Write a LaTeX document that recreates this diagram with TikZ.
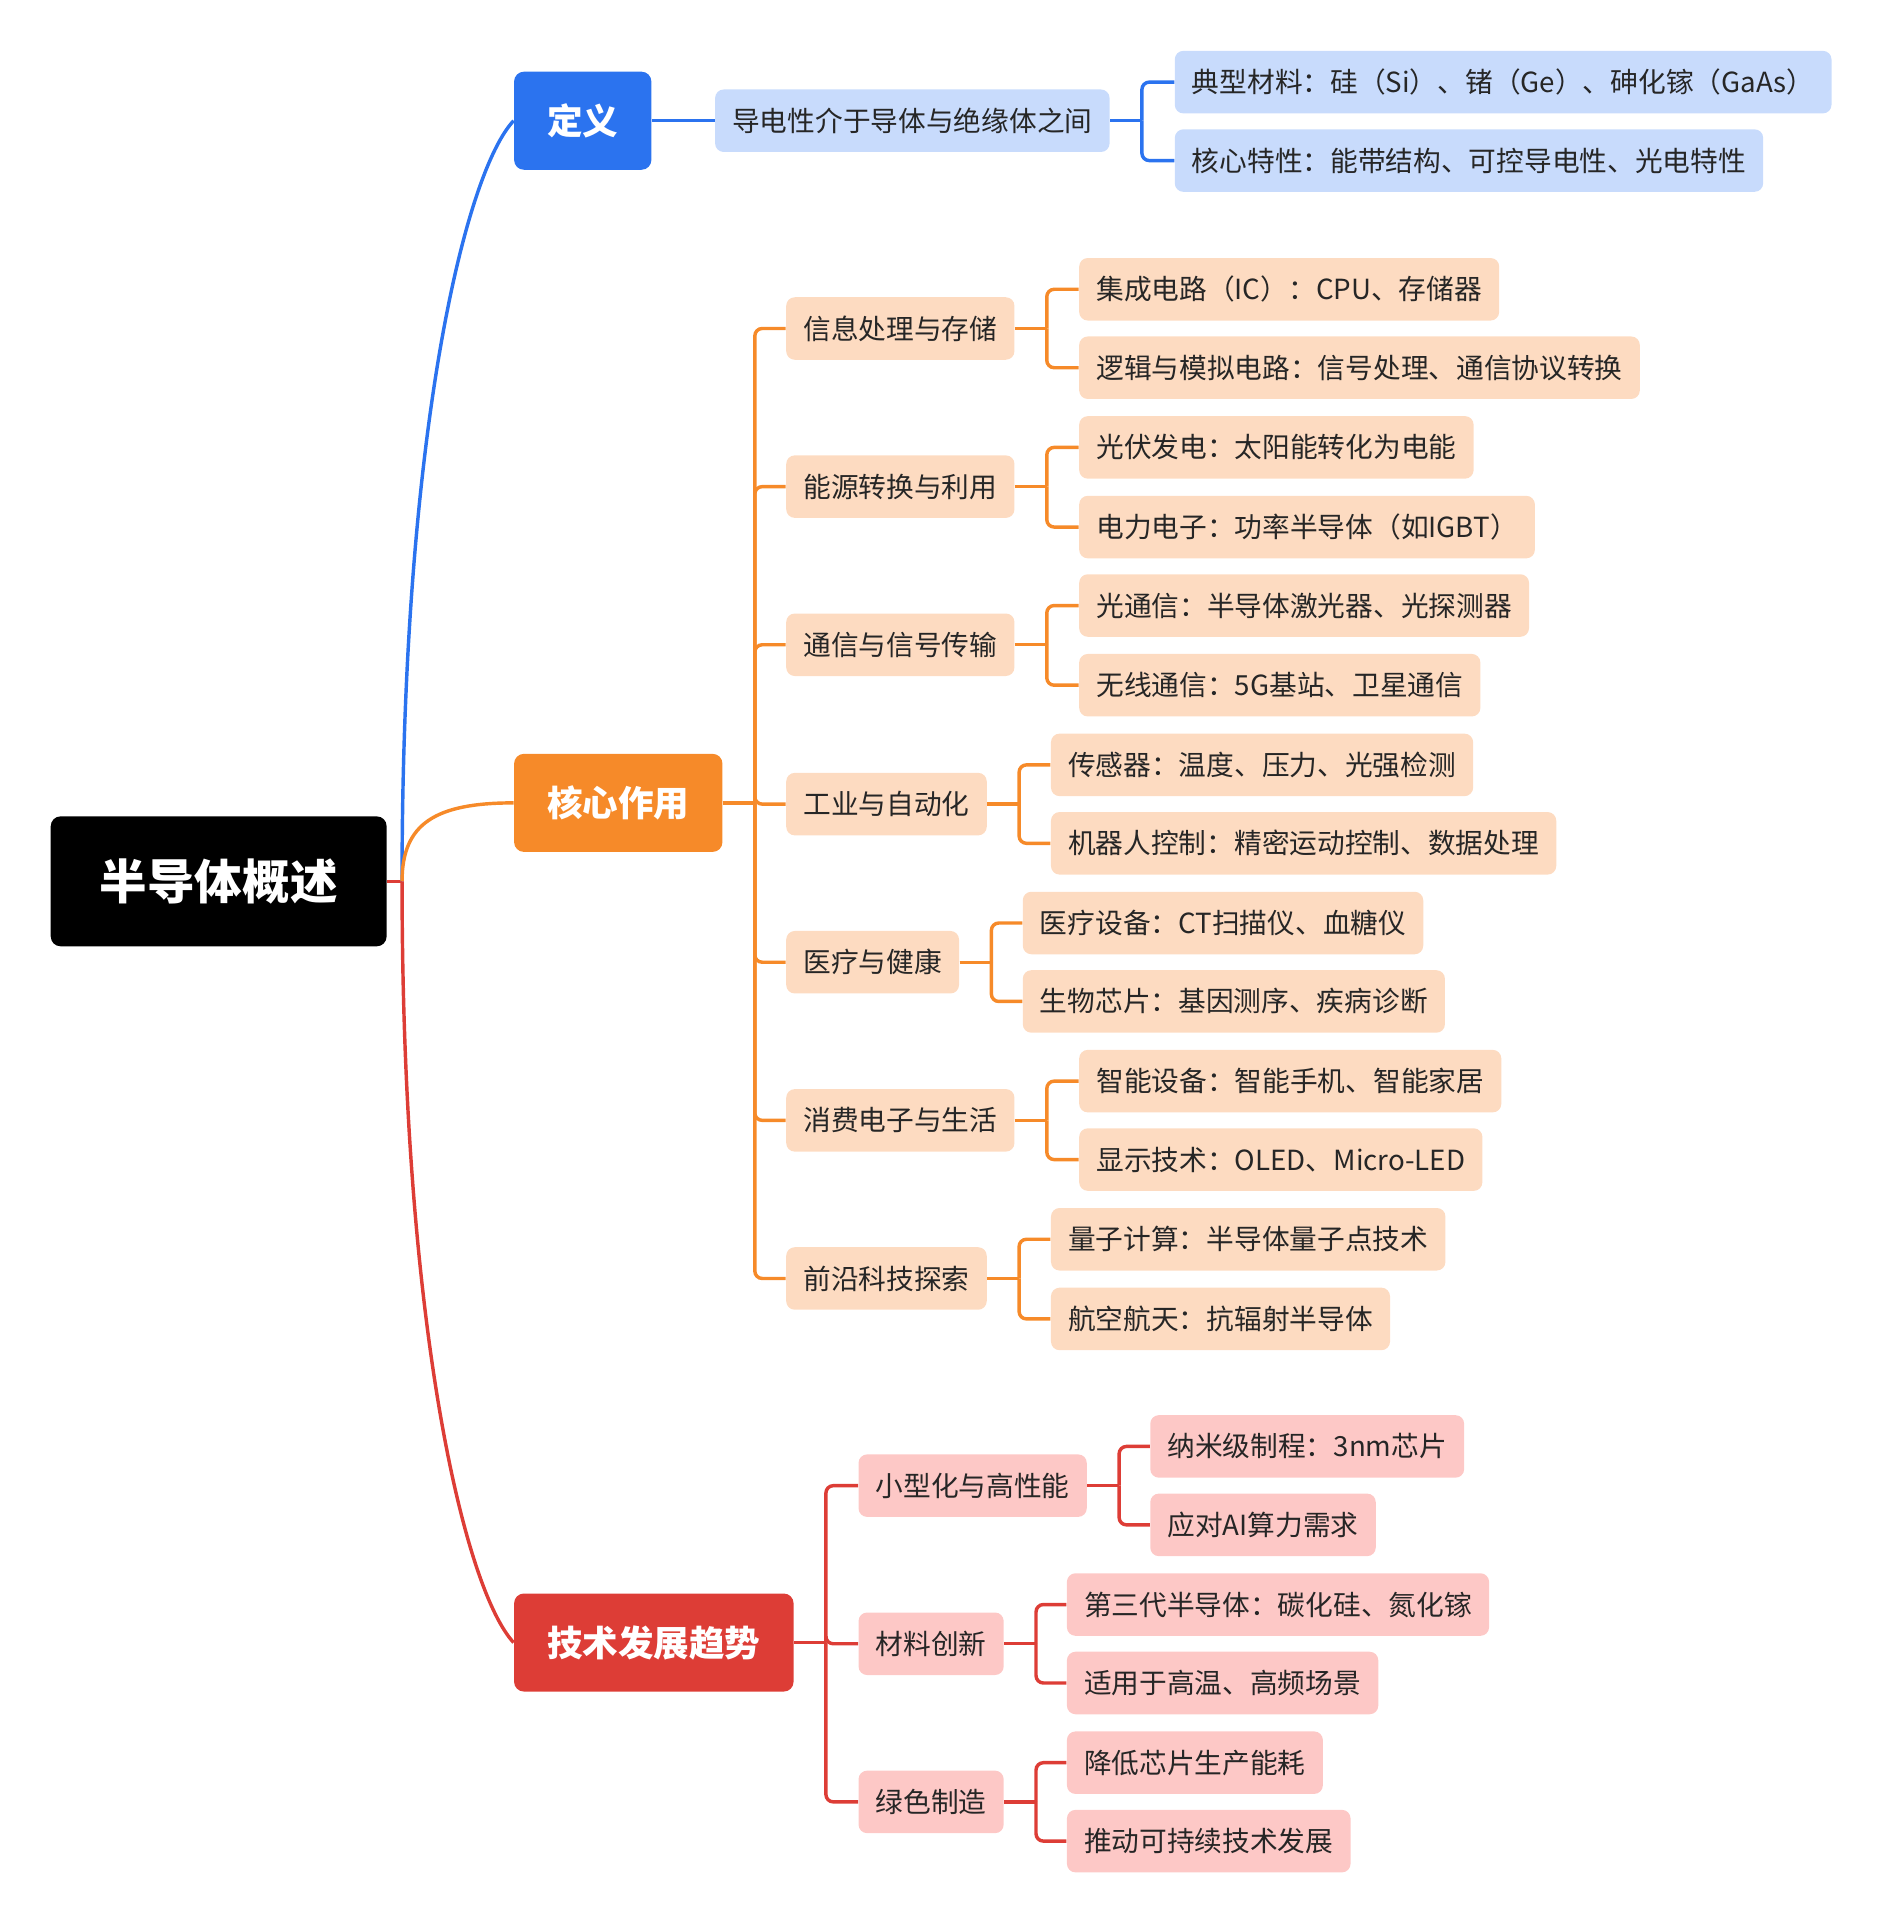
\documentclass[tikz,border=0pt]{standalone}
\usepackage{fontspec}
\setmainfont{Noto Sans CJK SC}
\usepackage{tikz}

\definecolor{bluedark}{HTML}{2B73EF}
\definecolor{bluelight}{HTML}{C8DBFC}
\definecolor{orangedark}{HTML}{F68A29}
\definecolor{orangelight}{HTML}{FDDBC1}
\definecolor{reddark}{HTML}{DD3D36}
\definecolor{redlight}{HTML}{FDC8C6}
\definecolor{txt}{HTML}{262626}

\tikzset{
  rootbox/.style={fill=black, text=white, rounded corners=4pt, anchor=west,
    font=\fontsize{19.4}{22}\selectfont\bfseries, inner xsep=20pt, inner ysep=0pt, minimum height=53pt},
  topic/.style={text=white, rounded corners=4pt, anchor=west,
    font=\fontsize{14.5}{17}\selectfont\bfseries, inner xsep=13.5pt, inner ysep=0pt, minimum height=40pt},
  leaf/.style={text=txt, rounded corners=3.5pt, anchor=west,
    font=\fontsize{11.3}{13}\selectfont, inner xsep=7pt, inner ysep=0pt, minimum height=25.5pt},
  link/.style={line width=1.4pt},
}

\begin{document}
\begin{tikzpicture}[x=0.5pt,y=-0.5pt]
    \useasboundingbox (0,0) rectangle (1542,1568);

    % main topic and branches
    \node[rootbox] (root) at (41,719) {半导体概述};
    \coordinate (hub) at (328,719);
    \node[topic, fill=bluedark] (def) at (419,98.5) {定义};
    \node[topic, fill=orangedark] (core) at (419,655) {核心作用};
    \node[topic, fill=reddark] (trend) at (419,1340) {技术发展趋势};

    \draw[link, reddark] (root.east) -- (hub);
    \draw[link, bluedark] (hub) .. controls (328,350) and (380,140) .. (def.west);
    \draw[link, orangedark] (hub) .. controls (328,672) and (355,655) .. (core.west);
    \draw[link, reddark] (hub) .. controls (328,1088) and (380,1298) .. (trend.west);

    % definition
    \node[leaf, fill=bluelight] (cond) at (583,98.5) {导电性介于导体与绝缘体之间};
    \node[leaf, fill=bluelight] (typ) at (958,67) {典型材料：硅（Si）、锗（Ge）、砷化镓（GaAs）};
    \node[leaf, fill=bluelight] (feat) at (958,131) {核心特性：能带结构、可控导电性、光电特性};
    \draw[link, bluedark] (def.east) -- (cond.west);

    % core roles
    \node[leaf, fill=orangelight] (info) at (641,268) {信息处理与存储};
    \node[leaf, fill=orangelight] (energy) at (641,397) {能源转换与利用};
    \node[leaf, fill=orangelight] (comm) at (641,526) {通信与信号传输};
    \node[leaf, fill=orangelight] (indus) at (641,656) {工业与自动化};
    \node[leaf, fill=orangelight] (med) at (641,785) {医疗与健康};
    \node[leaf, fill=orangelight] (cons) at (641,914) {消费电子与生活};
    \node[leaf, fill=orangelight] (front) at (641,1043) {前沿科技探索};

    \node[leaf, fill=orangelight] (ic) at (880,236) {集成电路（IC）：CPU、存储器};
    \node[leaf, fill=orangelight] (logic) at (880,300) {逻辑与模拟电路：信号处理、通信协议转换};
    \node[leaf, fill=orangelight] (pv) at (880,365) {光伏发电：太阳能转化为电能};
    \node[leaf, fill=orangelight] (power) at (880,430) {电力电子：功率半导体（如IGBT）};
    \node[leaf, fill=orangelight] (optic) at (880,494) {光通信：半导体激光器、光探测器};
    \node[leaf, fill=orangelight] (wireless) at (880,559) {无线通信：5G基站、卫星通信};
    \node[leaf, fill=orangelight] (sensor) at (857,624) {传感器：温度、压力、光强检测};
    \node[leaf, fill=orangelight] (robot) at (857,688) {机器人控制：精密运动控制、数据处理};
    \node[leaf, fill=orangelight] (equip) at (834,753) {医疗设备：CT扫描仪、血糖仪};
    \node[leaf, fill=orangelight] (chip) at (834,817) {生物芯片：基因测序、疾病诊断};
    \node[leaf, fill=orangelight] (smart) at (880,882) {智能设备：智能手机、智能家居};
    \node[leaf, fill=orangelight] (disp) at (880,946) {显示技术：OLED、Micro-LED};
    \node[leaf, fill=orangelight] (quant) at (857,1011) {量子计算：半导体量子点技术};
    \node[leaf, fill=orangelight] (aero) at (857,1076) {航空航天：抗辐射半导体};

    % trends
    \node[leaf, fill=redlight] (mini) at (700,1212) {小型化与高性能};
    \node[leaf, fill=redlight] (mater) at (700,1341) {材料创新};
    \node[leaf, fill=redlight] (green) at (700,1470) {绿色制造};

    \node[leaf, fill=redlight] (nano) at (938,1180) {纳米级制程：3nm芯片};
    \node[leaf, fill=redlight] (ai) at (938,1244) {应对AI算力需求};
    \node[leaf, fill=redlight] (third) at (870,1309) {第三代半导体：碳化硅、氮化镓};
    \node[leaf, fill=redlight] (hitemp) at (870,1373) {适用于高温、高频场景};
    \node[leaf, fill=redlight] (lowpower) at (870,1438) {降低芯片生产能耗};
    \node[leaf, fill=redlight] (sustain) at (870,1502) {推动可持续技术发展};

    % forks
    \foreach \p/\c in {cond/typ, cond/feat} {
        \draw[link, bluedark] (\p.east) -- ++(13pt,0);
        \draw[link, bluedark, rounded corners=3pt] ([xshift=13pt]\p.east) |- (\c.west);
    }
    \foreach \p/\c in {core/info, core/energy, core/comm, core/indus, core/med, core/cons, core/front,
        info/ic, info/logic, energy/pv, energy/power, comm/optic, comm/wireless, indus/sensor, indus/robot,
        med/equip, med/chip, cons/smart, cons/disp, front/quant, front/aero} {
        \draw[link, orangedark] (\p.east) -- ++(13pt,0);
        \draw[link, orangedark, rounded corners=3pt] ([xshift=13pt]\p.east) |- (\c.west);
    }
    \foreach \p/\c in {trend/mini, trend/mater, trend/green, mini/nano, mini/ai,
        mater/third, mater/hitemp, green/lowpower, green/sustain} {
        \draw[link, reddark] (\p.east) -- ++(13pt,0);
        \draw[link, reddark, rounded corners=3pt] ([xshift=13pt]\p.east) |- (\c.west);
    }
\end{tikzpicture}
\end{document}
